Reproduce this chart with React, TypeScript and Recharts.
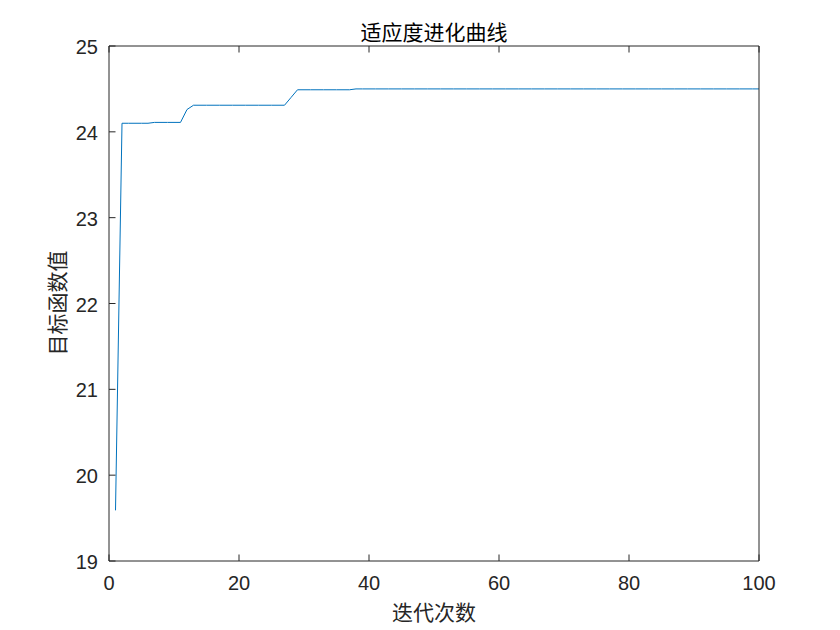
import React from 'react';
import { LineChart, Line, XAxis, YAxis } from 'recharts';

const iterations = [
  1, 2, 3, 4, 5, 6, 7, 8, 9, 10,
  11, 12, 13, 14, 15, 16, 17, 18, 19, 20,
  21, 22, 23, 24, 25, 26, 27, 28, 29, 30,
  31, 32, 33, 34, 35, 36, 37, 38, 39, 40,
  41, 42, 43, 44, 45, 46, 47, 48, 49, 50,
  51, 52, 53, 54, 55, 56, 57, 58, 59, 60,
  61, 62, 63, 64, 65, 66, 67, 68, 69, 70,
  71, 72, 73, 74, 75, 76, 77, 78, 79, 80,
  81, 82, 83, 84, 85, 86, 87, 88, 89, 90,
  91, 92, 93, 94, 95, 96, 97, 98, 99, 100,
];

const fitness = [
  19.59, 24.10, 24.10, 24.10, 24.10, 24.10, 24.11, 24.11, 24.11, 24.11,
  24.11, 24.26, 24.31, 24.31, 24.31, 24.31, 24.31, 24.31, 24.31, 24.31,
  24.31, 24.31, 24.31, 24.31, 24.31, 24.31, 24.31, 24.40, 24.49, 24.49,
  24.49, 24.49, 24.49, 24.49, 24.49, 24.49, 24.49, 24.50, 24.50, 24.50,
  24.50, 24.50, 24.50, 24.50, 24.50, 24.50, 24.50, 24.50, 24.50, 24.50,
  24.50, 24.50, 24.50, 24.50, 24.50, 24.50, 24.50, 24.50, 24.50, 24.50,
  24.50, 24.50, 24.50, 24.50, 24.50, 24.50, 24.50, 24.50, 24.50, 24.50,
  24.50, 24.50, 24.50, 24.50, 24.50, 24.50, 24.50, 24.50, 24.50, 24.50,
  24.50, 24.50, 24.50, 24.50, 24.50, 24.50, 24.50, 24.50, 24.50, 24.50,
  24.50, 24.50, 24.50, 24.50, 24.50, 24.50, 24.50, 24.50, 24.50, 24.50,
];

const xTicks = [0, 20, 40, 60, 80, 100];
const yTicks = [19, 20, 21, 22, 23, 24, 25];
const titleText = '适应度进化曲线';
const xLabelText = '迭代次数';
const yLabelText = '目标函数值';

const data = iterations.map((it, i) => ({ iter: it, value: fitness[i] }));

const AXIS = '#262626';
const FONT = '"Liberation Sans", Arial, "Noto Sans CJK SC", sans-serif';
const CJK = '"Noto Sans CJK SC", "Liberation Sans", sans-serif';
const TICK_LEN = 6.5;

const BottomTick = (props: any) => {
  const { x, y, payload } = props;
  return (
    <g>
      <line x1={x} y1={y} x2={x} y2={y - TICK_LEN} stroke={AXIS} strokeWidth={1} />
      <text x={x} y={y + 29} textAnchor="middle" fill={AXIS} fontSize={20} fontFamily={FONT}>
        {payload.value}
      </text>
    </g>
  );
};

const TopTick = (props: any) => {
  const { x, y } = props;
  return <line x1={x} y1={y} x2={x} y2={y + TICK_LEN} stroke={AXIS} strokeWidth={1} />;
};

const LeftTick = (props: any) => {
  const { x, y, payload } = props;
  return (
    <g>
      <line x1={x} y1={y} x2={x + TICK_LEN} y2={y} stroke={AXIS} strokeWidth={1} />
      <text x={x - 11} y={y + 8} textAnchor="end" fill={AXIS} fontSize={20} fontFamily={FONT}>
        {payload.value}
      </text>
    </g>
  );
};

const RightTick = (props: any) => {
  const { x, y } = props;
  return <line x1={x} y1={y} x2={x - TICK_LEN} y2={y} stroke={AXIS} strokeWidth={1} />;
};

export default function App() {
  return (
    <div style={{ position: 'absolute', left: 0, top: 0, width: 840, height: 630, background: '#fff' }}>
      <LineChart
        width={840}
        height={630}
        data={data}
        margin={{ top: 45, right: 80, bottom: 0, left: 0 }}
      >
        <XAxis
          xAxisId="bottom"
          dataKey="iter"
          type="number"
          domain={[0, 100]}
          ticks={xTicks}
          interval={0}
          height={69}
          tickSize={0}
          tickMargin={0}
          tick={<BottomTick />}
          axisLine={{ stroke: AXIS, strokeWidth: 1 }}
          tickLine={false}
        />
        <XAxis
          xAxisId="top"
          orientation="top"
          dataKey="iter"
          type="number"
          domain={[0, 100]}
          ticks={xTicks}
          interval={0}
          height={1}
          tickSize={0}
          tickMargin={0}
          tick={<TopTick />}
          axisLine={{ stroke: AXIS, strokeWidth: 1 }}
          tickLine={false}
        />
        <YAxis
          yAxisId="left"
          type="number"
          domain={[19, 25]}
          ticks={yTicks}
          interval={0}
          width={109}
          tickSize={0}
          tickMargin={0}
          tick={<LeftTick />}
          axisLine={{ stroke: AXIS, strokeWidth: 1 }}
          tickLine={false}
        />
        <YAxis
          yAxisId="right"
          orientation="right"
          type="number"
          domain={[19, 25]}
          ticks={yTicks}
          interval={0}
          width={1}
          tickSize={0}
          tickMargin={0}
          tick={<RightTick />}
          axisLine={{ stroke: AXIS, strokeWidth: 1 }}
          tickLine={false}
        />
        <Line
          xAxisId="bottom"
          yAxisId="left"
          type="linear"
          dataKey="value"
          stroke="#0072BD"
          strokeWidth={1}
          dot={false}
          activeDot={false}
          isAnimationActive={false}
        />
      </LineChart>
      <div
        style={{
          position: 'absolute',
          left: 334,
          width: 200,
          top: 19,
          textAlign: 'center',
          fontFamily: CJK,
          fontSize: 21,
          lineHeight: '24px',
          color: '#000',
          whiteSpace: 'nowrap',
        }}
      >
        {titleText}
      </div>
      <div
        style={{
          position: 'absolute',
          left: 334,
          width: 200,
          top: 599,
          textAlign: 'center',
          fontFamily: CJK,
          fontSize: 21,
          lineHeight: '24px',
          color: AXIS,
          whiteSpace: 'nowrap',
        }}
      >
        {xLabelText}
      </div>
      <div
        style={{
          position: 'absolute',
          left: 56 - 100,
          top: 303 - 12,
          width: 200,
          textAlign: 'center',
          fontFamily: CJK,
          fontSize: 21,
          lineHeight: '24px',
          color: AXIS,
          whiteSpace: 'nowrap',
          transform: 'rotate(-90deg)',
          transformOrigin: '100px 12px',
        }}
      >
        {yLabelText}
      </div>
    </div>
  );
}
